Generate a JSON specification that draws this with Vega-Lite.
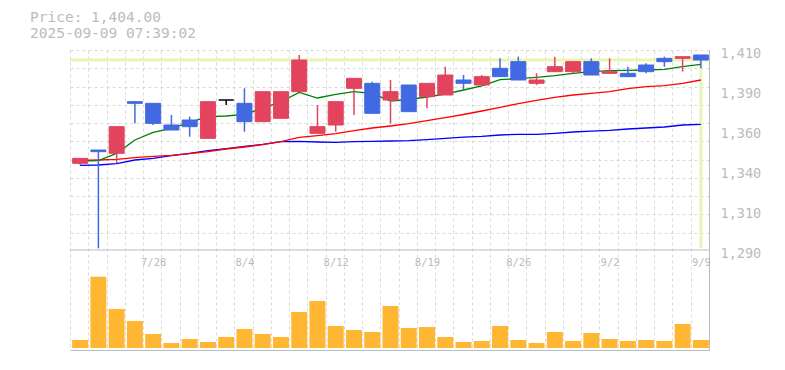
{
  "$schema": "https://vega.github.io/schema/vega-lite/v6.json",
  "width": 639,
  "height": 300,
  "autosize": {"type": "none"},
  "padding": {"left": 70, "top": 50, "right": 76, "bottom": 20},
  "background": "white",
  "title": {
    "text": ["Price: 1,404.00", "2025-09-09 07:39:02"],
    "anchor": "start",
    "frame": "group",
    "dx": -40,
    "offset": 5,
    "font": "DejaVu Sans Mono",
    "fontSize": 14.5,
    "fontWeight": "normal",
    "color": "#bbbbbb",
    "lineHeight": 16
  },
  "config": {"view": {"stroke": null}},
  "data": {
    "values": [
      {"d": "7/22", "o": 1342, "h": 1345, "l": 1341, "c": 1345, "v": 8000, "m5": 1343.4, "m25": 1343.8, "m75": 1340.8},
      {"d": "7/23", "o": 1350, "h": 1350, "l": 1291, "c": 1349, "v": 71300, "m5": 1343.6, "m25": 1344.0, "m75": 1341.0},
      {"d": "7/24", "o": 1348, "h": 1364, "l": 1342, "c": 1364, "v": 39000, "m5": 1348.0, "m25": 1344.4, "m75": 1341.8},
      {"d": "7/25", "o": 1379, "h": 1379, "l": 1366, "c": 1378, "v": 27000, "m5": 1356.0, "m25": 1345.4, "m75": 1344.0},
      {"d": "7/28", "o": 1378, "h": 1378, "l": 1365, "c": 1366, "v": 14000, "m5": 1360.6, "m25": 1346.2, "m75": 1345.0},
      {"d": "7/29", "o": 1365, "h": 1371, "l": 1362, "c": 1362, "v": 5000, "m5": 1363.0, "m25": 1346.8, "m75": 1346.6},
      {"d": "7/30", "o": 1368, "h": 1370, "l": 1358, "c": 1364, "v": 9000, "m5": 1366.6, "m25": 1347.8, "m75": 1348.0},
      {"d": "7/31", "o": 1357, "h": 1379, "l": 1357, "c": 1379, "v": 6000, "m5": 1370.0, "m25": 1349.0, "m75": 1349.6},
      {"d": "8/1", "o": 1380, "h": 1380, "l": 1377, "c": 1380, "v": 11000, "m5": 1370.4, "m25": 1350.6, "m75": 1350.8},
      {"d": "8/4", "o": 1378, "h": 1387, "l": 1361, "c": 1367, "v": 19000, "m5": 1371.4, "m25": 1351.8, "m75": 1352.2},
      {"d": "8/5", "o": 1367, "h": 1385, "l": 1367, "c": 1385, "v": 14000, "m5": 1375.0, "m25": 1353.2, "m75": 1353.4},
      {"d": "8/6", "o": 1369, "h": 1385, "l": 1369, "c": 1385, "v": 11000, "m5": 1379.0, "m25": 1355.0, "m75": 1355.0},
      {"d": "8/7", "o": 1385, "h": 1407, "l": 1385, "c": 1404, "v": 36000, "m5": 1384.5, "m25": 1357.6, "m75": 1355.2},
      {"d": "8/8", "o": 1360, "h": 1377, "l": 1360, "c": 1364, "v": 47000, "m5": 1381.2, "m25": 1358.6, "m75": 1354.8},
      {"d": "8/12", "o": 1365, "h": 1379, "l": 1361, "c": 1379, "v": 22000, "m5": 1383.4, "m25": 1359.8, "m75": 1354.6},
      {"d": "8/13", "o": 1387, "h": 1393, "l": 1371, "c": 1393, "v": 18000, "m5": 1385.0, "m25": 1361.6, "m75": 1355.0},
      {"d": "8/14", "o": 1390, "h": 1391, "l": 1372, "c": 1372, "v": 16000, "m5": 1384.0, "m25": 1363.2, "m75": 1355.2},
      {"d": "8/15", "o": 1380, "h": 1392, "l": 1366, "c": 1385, "v": 42000, "m5": 1379.3, "m25": 1364.4, "m75": 1355.4},
      {"d": "8/18", "o": 1389, "h": 1389, "l": 1373, "c": 1373, "v": 20000, "m5": 1380.3, "m25": 1365.8, "m75": 1355.6},
      {"d": "8/19", "o": 1382, "h": 1390, "l": 1375, "c": 1390, "v": 21000, "m5": 1381.8, "m25": 1367.6, "m75": 1356.2},
      {"d": "8/20", "o": 1383, "h": 1400, "l": 1383, "c": 1395, "v": 11000, "m5": 1383.5, "m25": 1369.4, "m75": 1357.0},
      {"d": "8/21", "o": 1392, "h": 1395, "l": 1386, "c": 1390, "v": 6000, "m5": 1386.0, "m25": 1371.3, "m75": 1357.7},
      {"d": "8/22", "o": 1389, "h": 1395, "l": 1389, "c": 1394, "v": 7000, "m5": 1388.5, "m25": 1373.4, "m75": 1358.2},
      {"d": "8/25", "o": 1399, "h": 1405, "l": 1394, "c": 1394, "v": 22000, "m5": 1392.2, "m25": 1375.6, "m75": 1359.0},
      {"d": "8/26", "o": 1403, "h": 1406, "l": 1392, "c": 1392, "v": 8000, "m5": 1392.8, "m25": 1377.8, "m75": 1359.4},
      {"d": "8/27", "o": 1390, "h": 1396, "l": 1389, "c": 1392, "v": 5000, "m5": 1393.6, "m25": 1379.8, "m75": 1359.4},
      {"d": "8/28", "o": 1397, "h": 1406, "l": 1397, "c": 1400, "v": 16000, "m5": 1394.6, "m25": 1381.6, "m75": 1360.0},
      {"d": "8/29", "o": 1397, "h": 1403, "l": 1396, "c": 1403, "v": 7000, "m5": 1396.0, "m25": 1383.0, "m75": 1360.8},
      {"d": "9/1", "o": 1403, "h": 1405, "l": 1395, "c": 1395, "v": 15000, "m5": 1397.0, "m25": 1384.0, "m75": 1361.3},
      {"d": "9/2", "o": 1396, "h": 1405, "l": 1396, "c": 1397, "v": 9000, "m5": 1397.6, "m25": 1385.0, "m75": 1361.8},
      {"d": "9/3", "o": 1396, "h": 1400, "l": 1394, "c": 1394, "v": 7000, "m5": 1397.8, "m25": 1386.8, "m75": 1362.6},
      {"d": "9/4", "o": 1401, "h": 1402, "l": 1396, "c": 1397, "v": 8000, "m5": 1398.0, "m25": 1388.0, "m75": 1363.2},
      {"d": "9/5", "o": 1405, "h": 1406, "l": 1400, "c": 1403, "v": 7000, "m5": 1398.4, "m25": 1388.6, "m75": 1363.8},
      {"d": "9/8", "o": 1405, "h": 1406, "l": 1397, "c": 1406, "v": 24000, "m5": 1400.0, "m25": 1390.0, "m75": 1365.0},
      {"d": "9/9", "o": 1407, "h": 1407, "l": 1399, "c": 1404, "v": 8000, "m5": 1401.4, "m25": 1392.0, "m75": 1365.4}
    ]
  },
  "layer": [
    {
      "mark": {"type": "bar", "color": "#ffb733", "size": 16, "xOffset": 1},
      "encoding": {
        "x": {
          "field": "d", "type": "ordinal", "sort": null,
          "scale": {"paddingInner": 0, "paddingOuter": 0},
          "axis": {
            "orient": "bottom", "title": null, "tickBand": "extent",
            "grid": true, "gridDash": [3, 3], "gridColor": "#d9d9d9", "gridWidth": 1,
            "ticks": false, "domain": true, "domainColor": "#bbbbbb", "domainWidth": 1,
            "labelAngle": 0, "labelOverlap": false, "labelPadding": -93, "labelBaseline": "top",
            "labelOffset": 1, "labelFont": "DejaVu Sans Mono", "labelFontSize": 10.5, "labelColor": "#bbbbbb",
            "labelExpr": "indexof(['7/28','8/4','8/12','8/19','8/26','9/2','9/9'], datum.label) >= 0 ? datum.label : ''"
          }
        },
        "y": {"field": "v", "type": "quantitative", "scale": {"domain": [-2000, 298000], "nice": false, "zero": false}, "axis": null}
      }
    },
    {
      "layer": [
        {
          "data": {"values": [{"p": 1404, "d": "9/9"}]},
          "mark": {"type": "rule", "color": "#e8f5b6", "strokeWidth": 3},
          "encoding": {
            "y": {
              "field": "p", "type": "quantitative",
              "scale": {"domain": [1230, 1410], "nice": false, "zero": false},
              "axis": {
                "orient": "left", "title": null, "labels": false, "ticks": false, "domain": false,
                "grid": true, "gridDash": [3, 3], "gridColor": "#d9d9d9", "gridWidth": 1,
                "values": [1300.5, 1311.45, 1322.4, 1333.35, 1344.3, 1355.25, 1366.2, 1377.15, 1388.1, 1399.05, 1410]
              }
            }
          }
        },
        {
          "data": {"values": [{"p": 1404, "d": "9/9"}]},
          "mark": {"type": "rule", "color": "#e8f5b6", "strokeWidth": 3, "xOffset": 1},
          "encoding": {
            "x": {"field": "d", "type": "ordinal", "sort": null, "scale": {"paddingInner": 0, "paddingOuter": 0}},
            "y": {
              "field": "p", "type": "quantitative",
              "scale": {"domain": [1230, 1410], "nice": false, "zero": false},
              "axis": {
                "orient": "right", "title": null, "grid": false, "ticks": false,
                "domain": true, "domainColor": "#bbbbbb", "domainWidth": 1,
                "values": [1290, 1314, 1338, 1362, 1386, 1410],
                "labelExpr": "format(round(datum.value / 10) * 10, ',')",
                "labelPadding": 11, "labelOffset": 3, "labelFont": "DejaVu Sans Mono",
                "labelFontSize": 13.5, "labelColor": "#bbbbbb"
              }
            },
            "y2": {"datum": 1291}
          }
        },
        {
          "data": {"values": [{"p": 1290}]},
          "mark": {"type": "rule", "color": "#bbbbbb", "strokeWidth": 1},
          "encoding": {
            "y": {"field": "p", "type": "quantitative", "scale": {"domain": [1230, 1410], "nice": false, "zero": false}, "axis": null}
          }
        },
        {
          "mark": {"type": "line", "color": "#0000ff", "strokeWidth": 1.3, "xOffset": 1},
          "encoding": {
            "x": {"field": "d", "type": "ordinal", "sort": null, "scale": {"paddingInner": 0, "paddingOuter": 0}},
            "y": {"field": "m75", "type": "quantitative", "scale": {"domain": [1230, 1410], "nice": false, "zero": false}, "axis": null}
          }
        },
        {
          "mark": {"type": "line", "color": "#ff0000", "strokeWidth": 1.3, "xOffset": 1},
          "encoding": {
            "x": {"field": "d", "type": "ordinal", "sort": null, "scale": {"paddingInner": 0, "paddingOuter": 0}},
            "y": {"field": "m25", "type": "quantitative", "scale": {"domain": [1230, 1410], "nice": false, "zero": false}, "axis": null}
          }
        },
        {
          "mark": {"type": "line", "color": "#008000", "strokeWidth": 1.3, "xOffset": 1},
          "encoding": {
            "x": {"field": "d", "type": "ordinal", "sort": null, "scale": {"paddingInner": 0, "paddingOuter": 0}},
            "y": {"field": "m5", "type": "quantitative", "scale": {"domain": [1230, 1410], "nice": false, "zero": false}, "axis": null}
          }
        },
        {
          "mark": {"type": "rule", "strokeWidth": 1.5, "xOffset": 1},
          "encoding": {
            "x": {"field": "d", "type": "ordinal", "sort": null, "scale": {"paddingInner": 0, "paddingOuter": 0}},
            "y": {"field": "l", "type": "quantitative", "scale": {"domain": [1230, 1410], "nice": false, "zero": false}, "axis": null},
            "y2": {"field": "h"},
            "color": {
              "condition": [
                {"test": "datum.c > datum.o", "value": "#e2445e"},
                {"test": "datum.c < datum.o", "value": "#4169e1"}
              ],
              "value": "#000000"
            }
          }
        },
        {
          "mark": {"type": "bar", "size": 15, "strokeWidth": 1, "xOffset": 1},
          "encoding": {
            "x": {"field": "d", "type": "ordinal", "sort": null, "scale": {"paddingInner": 0, "paddingOuter": 0}},
            "y": {"field": "o", "type": "quantitative", "scale": {"domain": [1230, 1410], "nice": false, "zero": false}, "axis": null},
            "y2": {"field": "c"},
            "fill": {
              "condition": [
                {"test": "datum.c > datum.o", "value": "#e2445e"},
                {"test": "datum.c < datum.o", "value": "#4169e1"}
              ],
              "value": "#000000"
            },
            "stroke": {
              "condition": [
                {"test": "datum.c > datum.o", "value": "#e2445e"},
                {"test": "datum.c < datum.o", "value": "#4169e1"}
              ],
              "value": "#000000"
            }
          }
        }
      ],
      "resolve": {"axis": {"y": "independent"}}
    }
  ],
  "resolve": {"scale": {"y": "independent"}}
}
